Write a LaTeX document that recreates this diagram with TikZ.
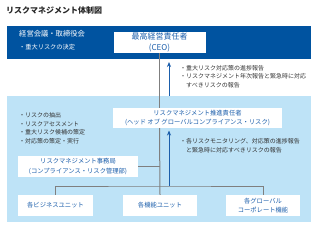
\documentclass[tikz,border=0pt]{standalone}
\usepackage{fontspec}
\setmainfont{Noto Sans CJK JP}
\usepackage{tikz}
\usetikzlibrary{positioning, arrows.meta, calc}

\definecolor{bandblue}{HTML}{0053A0}
\definecolor{paleblue}{HTML}{BEE3F7}
\definecolor{boxtext}{HTML}{1B5EAB}
\definecolor{linegray}{HTML}{7F7F7F}
\definecolor{notetext}{HTML}{333333}

\newcommand{\bul}{\makebox[1em][l]{・}}

\begin{document}
\begin{tikzpicture}[
		x=1pt, y=-1pt,
		unitbox/.style={draw=none, fill=white, inner sep=0pt, align=center, text=boxtext, font=\fontsize{6.3}{9.5}\selectfont},
		note/.style={inner sep=0pt, anchor=north west, align=left, text=notetext, font=\fontsize{6}{8.6}\selectfont},
		link/.style={draw=linegray, line width=1pt},
		report/.style={-{Stealth[length=5pt, width=4pt]}, draw=boxtext, line width=0.7pt}
		]
		\useasboundingbox (0,0) rectangle (312,227);
		
		% Title
		\node[anchor=west, inner sep=0pt, font=\fontsize{8}{9}\selectfont\bfseries, text=black!85] (title) at (6,10) {リスクマネジメント体制図};
		
		% Background bands
		\fill[bandblue] (7,26) rectangle (311,59);
		\fill[paleblue] (7,96) rectangle (311,222);
		
		% Top band: board
		\node[anchor=west, inner sep=0pt, text=white, font=\fontsize{7.3}{9}\selectfont] (board) at (19,34) {経営会議・取締役会};
		\node[anchor=west, inner sep=0pt, text=white, font=\fontsize{6.2}{8}\selectfont] (decide) at (19,47) {\bul 重大リスクの決定};
		\node[unitbox, minimum width=92pt, minimum height=21pt, font=\fontsize{8}{10.5}\selectfont] (ceo) at (159.5,42.5) {最高経営責任者\\(CEO)};
		
		% Middle: head of global compliance & risk
		\node[unitbox, minimum width=169pt, minimum height=20pt] (head) at (197.5,118) {リスクマネジメント推進責任者\\(ヘッド オブ グローバルコンプライアンス・リスク)};
		\node[unitbox, minimum width=120pt, minimum height=21pt] (office) at (78,166.5) {リスクマネジメント事務局\\(コンプライアンス・リスク管理部)};
		
		% Bottom units
		\node[unitbox, minimum width=75pt, minimum height=21pt] (bu1) at (55.5,205.5) {各ビジネスユニット};
		\node[unitbox, minimum width=74pt, minimum height=21pt] (bu2) at (160,205.5) {各機能ユニット};
		\node[unitbox, minimum width=74pt, minimum height=21pt] (bu3) at (263,205.5) {各グローバル\\コーポレート機能};
		
		% Notes
		\node[note] (upnote) at (180,65) {\bul 重大リスク対応策の進捗報告\\\bul リスクマネジメント年次報告と緊急時に対応\\\hspace{1em}すべきリスクの報告};
		\node[note] (tasks) at (19,112.5) {\bul リスクの抽出\\\bul リスクアセスメント\\\bul 重大リスク候補の策定\\\bul 対応策の策定・実行};
		\node[note] (lownote) at (180,138.5) {\bul 各リスクモニタリング、対応策の進捗報告\\\hspace{1em}と緊急時に対応すべきリスクの報告};
		
		% Reporting lines
		\coordinate (bus) at (160,186);
		\draw[link] (ceo.south) -- (ceo.south |- head.north);
		\draw[link] (ceo.south |- head.south) -- (bu2.north);
		\draw[link] (office.east) -- (office.east -| bus);
		\draw[link] (bu1.north) |- (bus) -| (bu3.north);
		
		% Upward reports
		\coordinate (r1from) at (169,96);
		\coordinate (r1to) at (169,62);
		\coordinate (r2from) at (169,186);
		\coordinate (r2to) at (169,130.5);
		\draw[report] (r1from) -- (r1to);
		\draw[report] (r2from) -- (r2to);
		
	\end{tikzpicture}
\end{document}
